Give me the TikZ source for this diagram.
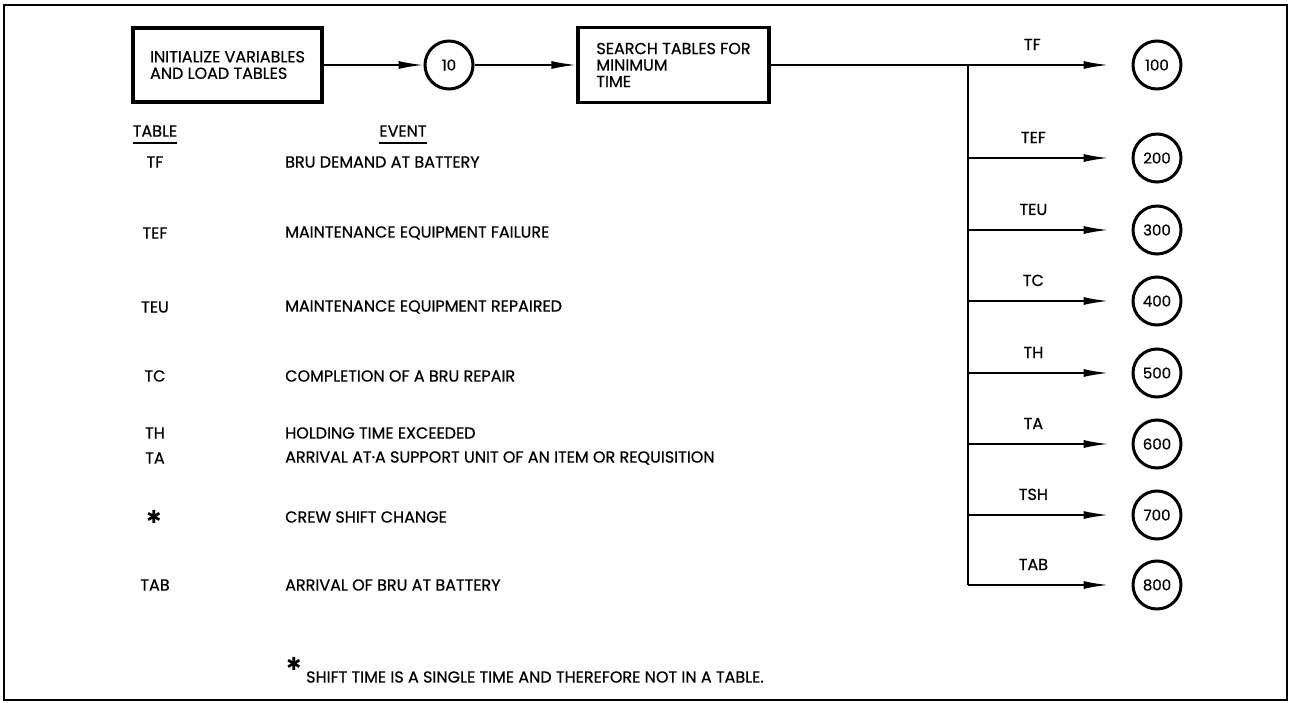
\documentclass[tikz,border=0pt]{standalone}
\usepackage{fontspec}
\setmainfont{Poppins}[FakeBold=0.6]
\newfontfamily\symfont{DejaVu Sans}
\usetikzlibrary{arrows.meta}

\tikzset{
  boite/.style={draw, line width=3.2pt, align=left, inner sep=0pt,
    font=\fontsize{16}{16.5}\selectfont},
  rond/.style={draw, circle, line width=3pt, minimum size=48pt, inner sep=0pt,
    font=\fontsize{15}{15}\selectfont},
  fleche/.style={line width=1.8pt, -{Latex[length=25pt,width=8pt]}},
  texte/.style={font=\fontsize{16}{16}\selectfont, inner sep=0pt},
  etoile/.style={font=\symfont\fontsize{18}{18}\selectfont, inner sep=0pt},
}

\begin{document}
\begin{tikzpicture}[x=1pt,y=-1pt]
        \useasboundingbox (0,0) rectangle (1290,703);
        % Cadre
        \draw[line width=1.8pt] (4,5) rectangle (1287,700);

        % Ligne du haut
        \node[boite, minimum width=189pt, minimum height=74pt] (init) at (227.5,65) {INITIALIZE VARIABLES\\AND LOAD TABLES};
        \node[rond] (c10) at (449,65) {10};
        \node[boite, minimum width=191pt, minimum height=75pt] (search) at (673.5,65) {SEARCH TABLES FOR\\MINIMUM\\TIME};
        \draw[fleche] (init) -- (c10);
        \draw[fleche] (c10) -- (search);

        % Branches vers les evenements
        \coordinate (tronc) at (968,65);
        \coordinate (bas) at (968,585);
        \draw[line width=1.8pt] (tronc) -- (bas);
        \foreach \num/\y in {100/65, 200/158, 300/230, 400/301, 500/373, 600/444, 700/515, 800/585} {
            \node[rond] (c\num) at (1157,\y) {\num};
            \coordinate (b\num) at (968,\y);
        }
        \draw[fleche, shorten >=23pt] (search) -- node[texte, pos=0.725, above=14pt] {TF} (c100);
        \foreach \lab/\num in {TEF/200, TEU/300, TC/400, TH/500, TA/600, TSH/700, TAB/800} {
            \draw[fleche, shorten >=23pt] (b\num) -- node[texte, pos=0.4, above=14pt] {\lab} (c\num);
        }

        % Tableau
        \node[texte] (hdtab) at (155,131) {TABLE};
        \node[texte] (hdevt) at (403,131) {EVENT};
        \draw[line width=1.8pt] ([yshift=-6pt]hdtab.south west) -- ([yshift=-6pt]hdtab.south east);
        \draw[line width=1.8pt] ([yshift=-6pt]hdevt.south west) -- ([yshift=-6pt]hdevt.south east);
        \foreach \id/\nom/\desc/\y in {
            tf/TF/BRU DEMAND AT BATTERY/162,
            tef/TEF/MAINTENANCE EQUIPMENT FAILURE/233,
            teu/TEU/MAINTENANCE EQUIPMENT REPAIRED/307,
            tc/TC/COMPLETION OF A BRU REPAIR/376,
            th/TH/HOLDING TIME EXCEEDED/433,
            ta/TA/ARRIVAL AT·A SUPPORT UNIT OF AN ITEM OR REQUISITION/458,
            tab/TAB/ARRIVAL OF BRU AT BATTERY/585} {
            \node[texte] (t\id) at (155,\y) {\nom};
            \node[texte, anchor=west] (e\id) at (285,\y) {\desc};
        }
        \node[etoile] (ttsh) at (154,517) {✱};
        \node[texte, anchor=west] (etsh) at (285,517) {CREW SHIFT CHANGE};

        % Note
        \node[etoile] (noteast) at (294,664) {✱};
        \node[texte, anchor=west] (note) at (306,677) {SHIFT TIME IS A SINGLE TIME AND THEREFORE NOT IN A TABLE.};
\end{tikzpicture}
\end{document}
